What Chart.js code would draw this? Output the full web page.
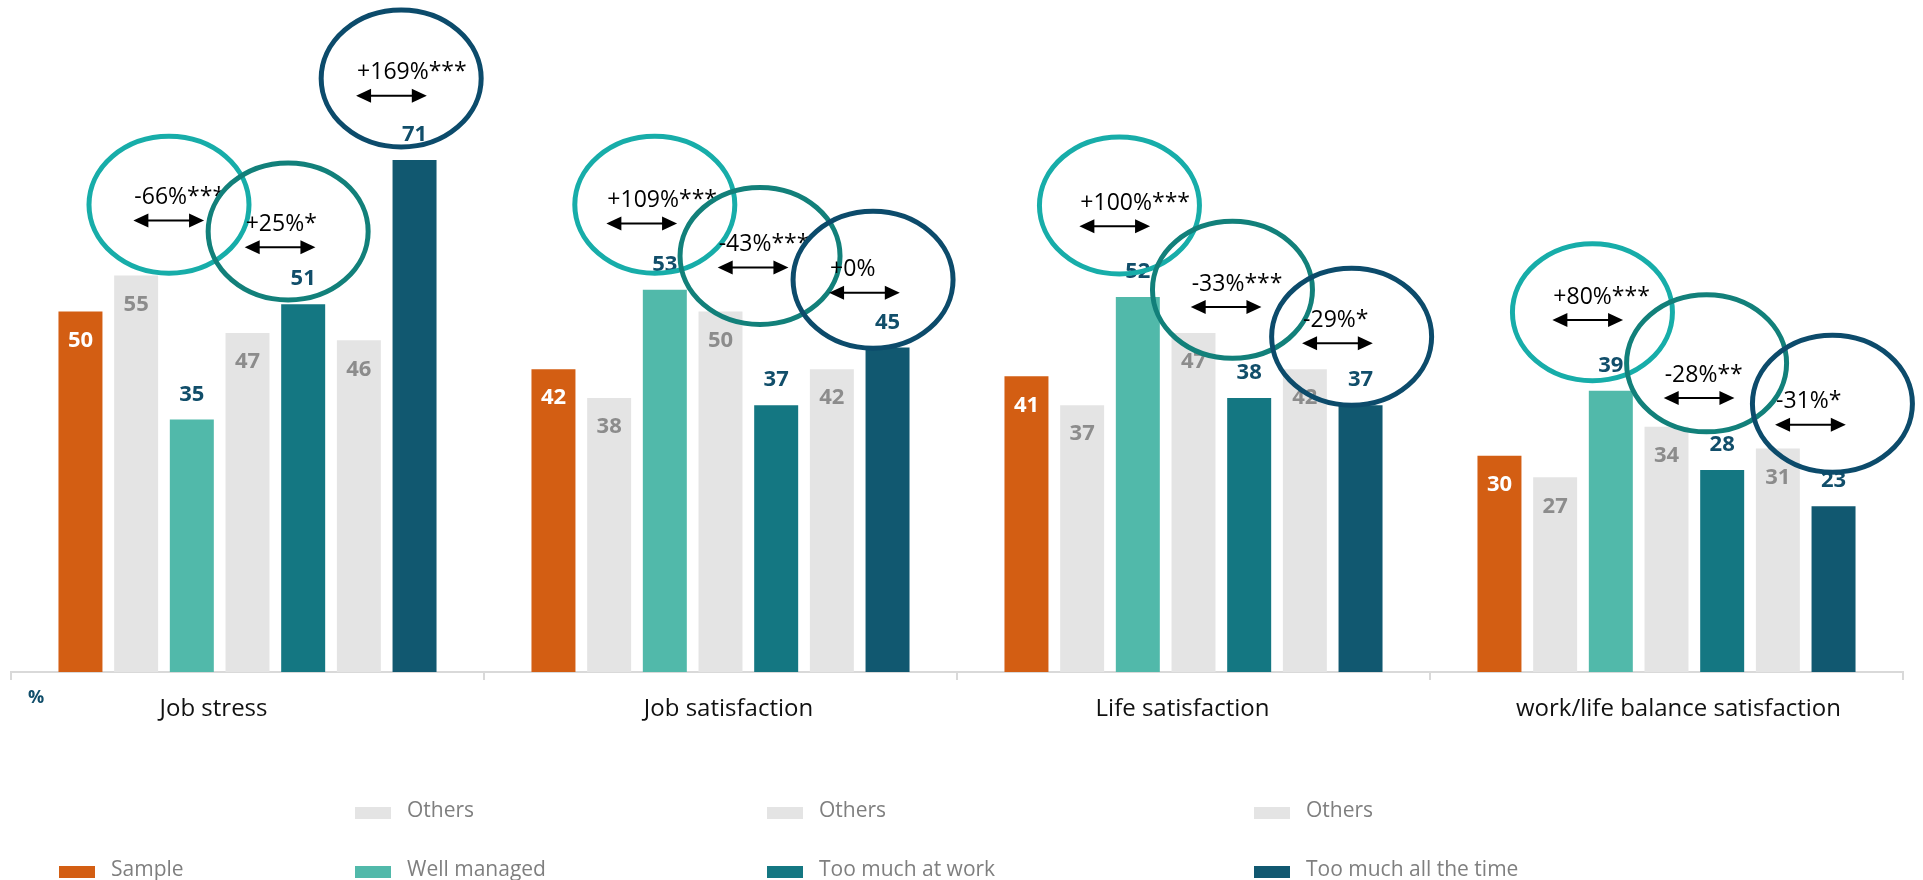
<!DOCTYPE html>
<html>
<head>
<meta charset="utf-8">
<script src="https://cdn.jsdelivr.net/npm/chart.js"></script>
<style>
  html, body { margin: 0; padding: 0; background: #fff; }
  #wrap { width: 1923px; height: 880px; position: relative; }
</style>
</head>
<body>
<div id="wrap"><canvas id="chart"></canvas></div>
<script>
// categories and series (%)
const categories = ['Job stress', 'Job satisfaction', 'Life satisfaction', 'work/life balance satisfaction'];
const sample = [50, 42, 41, 30];
const othersWell = [55, 38, 37, 27];
const wellManaged = [35, 53, 52, 39];
const othersWork = [47, 50, 47, 34];
const tooMuchWork = [51, 37, 38, 28];
const othersAllTime = [46, 42, 42, 31];
const tooMuchAllTime = [71, 45, 37, 23];

// change vs. "Others", three per category
const changes = ['-66%***', '+25%*', '+169%***',
                 '+109%***', '-43%***', '+0%',
                 '+100%***', '-33%***', '-29%*',
                 '+80%***', '-28%**', '-31%*'];

// where each ring / arrow sits (value units) and ring nudge (in bar slots)
const arrowLevel = [62.6, 58.9, 79.9, 62.2, 56.1, 52.6, 61.8, 50.6, 45.6, 48.8, 38.0, 34.3];
const ringLevel  = [64.8, 61.1, 82.3, 64.8, 57.7, 54.4, 64.7, 53.0, 46.5, 49.9, 42.8, 37.2];
const ringShift  = [0.09, 0.23, 0.26, 0.32, 0.21, 0.24, 0.17, 0.20, 0.34, 0.17, 0.22, 0.48];

// horizontal nudge of each category caption (px)
const captionNudge = [-34, 8, -11, 12];

const ORANGE = '#D35E13', GREY = '#E4E4E4', MINT = '#51B9AA', TEAL = '#147782', NAVY = '#115870';
const ringColors = ['#17ADA9', '#12807A', '#0C4B6B'];
const LABEL_NAVY = '#114E6A';

const FONT = '"Open Sans", "Noto Sans", sans-serif';

function ds(label, data, color, labelMode, labelColor) {
  return { label, data, backgroundColor: color, borderWidth: 0, labelMode, labelColor };
}

const valueLabels = {
  id: 'valueLabels',
  afterDatasetsDraw(chart) {
    const ctx = chart.ctx;
    ctx.save();
    ctx.font = 'bold 22px ' + FONT;
    ctx.textAlign = 'center';
    ctx.textBaseline = 'middle';
    chart.data.datasets.forEach((d, di) => {
      const meta = chart.getDatasetMeta(di);
      meta.data.forEach((bar, i) => {
        ctx.fillStyle = d.labelColor;
        const y = d.labelMode === 'inside' ? bar.y + 29 : bar.y - 25;
        ctx.fillText(String(d.data[i]), bar.x, y);
      });
    });
    ctx.restore();
  }
};

const rings = {
  id: 'rings',
  afterDatasetsDraw(chart) {
    const ctx = chart.ctx;
    const ys = chart.scales.y;
    ctx.save();
    changes.forEach((txt, k) => {
      const cat = Math.floor(k / 3);
      const j = k % 3;
      const others = chart.getDatasetMeta(1 + j * 2).data[cat];
      const group = chart.getDatasetMeta(2 + j * 2).data[cat];
      const pitch = group.x - others.x;

      // ring
      const cx = (others.x + group.x) / 2 + ringShift[k] * pitch;
      const cy = ys.getPixelForValue(ringLevel[k]);
      ctx.beginPath();
      ctx.ellipse(cx, cy, 80, 68.5, 0, 0, Math.PI * 2);
      ctx.strokeStyle = ringColors[j];
      ctx.lineWidth = 5;
      ctx.stroke();

      // double-headed arrow
      const ay = ys.getPixelForValue(arrowLevel[k]);
      const x1 = others.x - 0.05 * pitch;
      const x2 = x1 + 1.27 * pitch;
      const head = 15, half = 7;
      ctx.strokeStyle = '#000';
      ctx.fillStyle = '#000';
      ctx.lineWidth = 2;
      ctx.beginPath();
      ctx.moveTo(x1 + head - 2, ay);
      ctx.lineTo(x2 - head + 2, ay);
      ctx.stroke();
      ctx.beginPath();
      ctx.moveTo(x1, ay); ctx.lineTo(x1 + head, ay - half); ctx.lineTo(x1 + head, ay + half); ctx.closePath();
      ctx.fill();
      ctx.beginPath();
      ctx.moveTo(x2, ay); ctx.lineTo(x2 - head, ay - half); ctx.lineTo(x2 - head, ay + half); ctx.closePath();
      ctx.fill();

      // percentage text
      ctx.font = '23px ' + FONT;
      ctx.textAlign = 'left';
      ctx.textBaseline = 'middle';
      ctx.fillText(txt, x1 + 1, ay - 23);
    });
    ctx.restore();
  }
};

const legendItems = [
  { text: 'Others', color: GREY, x: 355, y: 813 },
  { text: 'Others', color: GREY, x: 767, y: 813 },
  { text: 'Others', color: GREY, x: 1254, y: 813 },
  { text: 'Sample', color: ORANGE, x: 59, y: 872 },
  { text: 'Well managed', color: MINT, x: 355, y: 872 },
  { text: 'Too much at work', color: TEAL, x: 767, y: 872 },
  { text: 'Too much all the time', color: NAVY, x: 1254, y: 872 }
];

const extras = {
  id: 'extras',
  afterDraw(chart) {
    const ctx = chart.ctx;
    const area = chart.chartArea;
    const xs = chart.scales.x;
    ctx.save();

    // category captions
    ctx.font = '24px ' + FONT;
    ctx.fillStyle = '#111';
    ctx.textAlign = 'center';
    ctx.textBaseline = 'alphabetic';
    categories.forEach((c, i) => {
      ctx.fillText(c, xs.getPixelForValue(i) + captionNudge[i], area.bottom + 44);
    });

    // unit marker under the axis
    ctx.font = 'bold 18px ' + FONT;
    ctx.fillStyle = LABEL_NAVY;
    ctx.textAlign = 'left';
    ctx.textBaseline = 'middle';
    ctx.fillText('%', area.left + 17, area.bottom + 26);

    // legend
    ctx.font = '21px ' + FONT;
    legendItems.forEach(it => {
      ctx.fillStyle = it.color;
      ctx.fillRect(it.x, it.y - 6, 36, 12);
      ctx.fillStyle = '#7F7F7F';
      ctx.fillText(it.text, it.x + 52, it.y - 2);
    });
    ctx.restore();
  }
};

new Chart(document.getElementById('chart'), {
  type: 'bar',
  data: {
    labels: categories,
    datasets: [
      ds('Sample', sample, ORANGE, 'inside', '#FFFFFF'),
      ds('Others', othersWell, GREY, 'inside', '#8C8C8C'),
      ds('Well managed', wellManaged, MINT, 'above', LABEL_NAVY),
      ds('Others', othersWork, GREY, 'inside', '#8C8C8C'),
      ds('Too much at work', tooMuchWork, TEAL, 'above', LABEL_NAVY),
      ds('Others', othersAllTime, GREY, 'inside', '#8C8C8C'),
      ds('Too much all the time', tooMuchAllTime, NAVY, 'above', LABEL_NAVY)
    ]
  },
  options: {
    responsive: true,
    maintainAspectRatio: false,
    animation: false,
    categoryPercentage: 0.824,
    barPercentage: 0.79,
    layout: { padding: { left: 11, right: 20, top: 23, bottom: 0 } },
    plugins: {
      legend: { display: false },
      tooltip: { enabled: false }
    },
    scales: {
      x: {
        offset: true,
        grid: {
          offset: true,
          drawOnChartArea: false,
          drawTicks: true,
          tickLength: 8,
          color: '#D9D9D9',
          lineWidth: 2
        },
        border: { display: true, color: '#D9D9D9', width: 2 },
        ticks: { display: false },
        afterFit(scale) { scale.height = 208; }
      },
      y: {
        display: false,
        min: 0,
        max: 90
      }
    }
  },
  plugins: [valueLabels, rings, extras]
});
</script>
</body>
</html>
